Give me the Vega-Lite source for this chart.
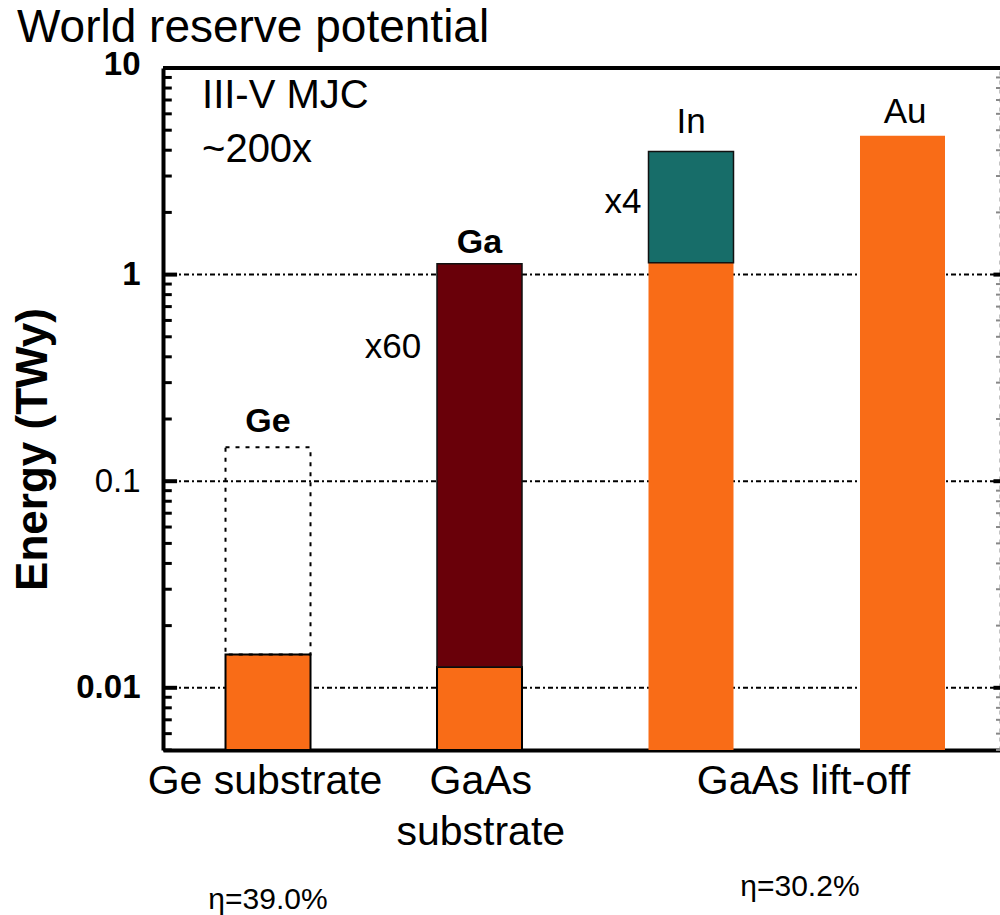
{
  "$schema": "https://vega.github.io/schema/vega-lite/v6.json",
  "width": 837,
  "height": 682,
  "autosize": {"type": "none"},
  "padding": {"left": 163, "top": 68, "right": 0, "bottom": 165},
  "background": "white",
  "title": {"text": "World reserve potential", "anchor": "start", "frame": "bounds", "fontSize": 46, "fontWeight": "normal", "font": "Liberation Sans", "color": "black", "baseline": "bottom", "offset": -50, "dx": 6},
  "config": {
    "font": "Liberation Sans",
    "view": {"stroke": null},
    "axisX": {"labels": false, "ticks": false, "grid": false, "domainWidth": 4, "domainColor": "black", "title": null}
  },
  "resolve": {"axis": {"y": "independent"}},
  "datasets": {
    "bars": [
      {"pos": 1, "metal": "Ge", "value": 0.0145, "reserve": 0.146},
      {"pos": 2, "metal": "Ga", "value": 0.0126, "top": 1.13},
      {"pos": 3, "metal": "In", "value": 1.14, "top": 3.94},
      {"pos": 4, "metal": "Au", "value": 4.7}
    ],
    "grid": [{"v": 0.01}, {"v": 0.1}, {"v": 1}],
    "minorTicks": [
      {"v": 0.005}, {"v": 0.006}, {"v": 0.007}, {"v": 0.008}, {"v": 0.009},
      {"v": 0.02}, {"v": 0.03}, {"v": 0.04}, {"v": 0.05}, {"v": 0.06}, {"v": 0.07}, {"v": 0.08}, {"v": 0.09},
      {"v": 0.2}, {"v": 0.3}, {"v": 0.4}, {"v": 0.5}, {"v": 0.6}, {"v": 0.7}, {"v": 0.8}, {"v": 0.9},
      {"v": 2}, {"v": 3}, {"v": 4}, {"v": 5}, {"v": 6}, {"v": 7}, {"v": 8}, {"v": 9}
    ],
    "majorTicks": [{"v": 0.01}, {"v": 0.1}, {"v": 1}, {"v": 10}],
    "notes": [
      {"label": "III-V MJC", "x": 0.688, "y": 7.32},
      {"label": "~200x", "x": 0.688, "y": 4.01}
    ],
    "metals": [
      {"label": "Ge", "x": 1.0, "y": 0.1936},
      {"label": "Ga", "x": 2.0, "y": 1.422}
    ],
    "marks": [
      {"label": "In", "x": 3.0, "y": 5.48},
      {"label": "Au", "x": 4.012, "y": 6.12},
      {"label": "x4", "x": 2.678, "y": 2.246},
      {"label": "x60", "x": 1.591, "y": 0.4465}
    ],
    "groups": [
      {"label": "Ge substrate", "x": 0.986, "y": 0.0035},
      {"label": "GaAs", "x": 2.006, "y": 0.0035},
      {"label": "substrate", "x": 2.006, "y": 0.00198},
      {"label": "GaAs lift-off", "x": 3.532, "y": 0.0035}
    ],
    "eff": [
      {"label": "η=39.0%", "x": 1.0, "y": 0.00094},
      {"label": "η=30.2%", "x": 3.515, "y": 0.001086}
    ]
  },
  "layer": [
    {
      "data": {"name": "grid"},
      "mark": {"type": "rule", "color": "black", "strokeWidth": 2, "strokeDash": [2, 3, 5, 3]},
      "encoding": {
        "y": {"field": "v", "type": "quantitative", "scale": {"type": "log", "domain": [0.005, 10]},
          "axis": {
            "orient": "left",
            "values": [0.01, 0.1, 1, 10],
            "labelExpr": "datum.value == 10 ? '10' : datum.value == 1 ? '1' : datum.value == 0.1 ? '0.1' : datum.value == 0.01 ? '0.01' : ''",
            "labelFontSize": 33,
            "labelFontWeight": {"condition": {"test": "datum.value == 0.1", "value": "normal"}, "value": "bold"},
            "labelOffset": {"condition": {"test": "datum.value == 10", "value": -4}, "value": 0},
            "labelColor": "black",
            "labelPadding": 23,
            "labelBaseline": "middle",
            "ticks": false,
            "domainWidth": 4,
            "domainColor": "black",
            "grid": false,
            "labelOverlap": false,
            "labelFlush": false,
            "title": "Energy (TWy)",
            "titleFontSize": 44,
            "titleFontWeight": "bold",
            "titleColor": "black",
            "titleAngle": -90,
            "titleX": -130,
            "titleY": 381,
            "titleAlign": "center",
            "titleBaseline": "middle"
          }
        }
      }
    },
    {
      "data": {"name": "minorTicks"},
      "mark": {"type": "rule", "color": "black", "strokeWidth": 3},
      "encoding": {
        "y": {"field": "v", "type": "quantitative", "scale": {"type": "log", "domain": [0.005, 10]}, "axis": null},
        "x": {"datum": 0.5035, "type": "quantitative", "scale": {"domain": [0.5035, 4.461], "nice": false, "zero": false, "padding": 0}, "title": null},
        "x2": {"datum": 0.545}
      }
    },
    {
      "data": {"name": "majorTicks"},
      "mark": {"type": "rule", "color": "black", "strokeWidth": 4},
      "encoding": {
        "y": {"field": "v", "type": "quantitative", "scale": {"type": "log", "domain": [0.005, 10]}, "axis": null},
        "x": {"datum": 0.5035, "type": "quantitative", "scale": {"domain": [0.5035, 4.461], "nice": false, "zero": false, "padding": 0}, "title": null},
        "x2": {"datum": 0.57}
      }
    },
    {
      "data": {"name": "minorTicks"},
      "mark": {"type": "rule", "color": "#888", "strokeWidth": 2},
      "encoding": {
        "y": {"field": "v", "type": "quantitative", "scale": {"type": "log", "domain": [0.005, 10]}, "axis": null},
        "x": {"datum": 4.442, "type": "quantitative", "scale": {"domain": [0.5035, 4.461], "nice": false, "zero": false, "padding": 0}, "title": null},
        "x2": {"datum": 4.461}
      }
    },
    {
      "data": {"name": "majorTicks"},
      "mark": {"type": "rule", "color": "black", "strokeWidth": 4},
      "encoding": {
        "y": {"field": "v", "type": "quantitative", "scale": {"type": "log", "domain": [0.005, 10]}, "axis": null},
        "x": {"datum": 4.43, "type": "quantitative", "scale": {"domain": [0.5035, 4.461], "nice": false, "zero": false, "padding": 0}, "title": null},
        "x2": {"datum": 4.461}
      }
    },
    {
      "data": {"name": "bars"},
      "mark": {"type": "bar", "orient": "vertical", "width": 85, "color": "#F96C17", "stroke": "black", "strokeWidth": 2},
      "encoding": {
        "x": {"field": "pos", "type": "quantitative", "scale": {"domain": [0.5035, 4.461], "nice": false, "zero": false, "padding": 0}, "title": null},
        "y": {"field": "value", "type": "quantitative", "stack": null, "scale": {"type": "log", "domain": [0.005, 10]}, "axis": null},
        "strokeOpacity": {"condition": {"test": "datum.pos <= 2", "value": 1}, "value": 0}
      }
    },
    {
      "data": {"name": "bars"},
      "transform": [{"filter": "isValid(datum.top)"}],
      "mark": {"type": "bar", "orient": "vertical", "width": 85, "stroke": "#111", "strokeWidth": 1.5},
      "encoding": {
        "x": {"field": "pos", "type": "quantitative", "scale": {"domain": [0.5035, 4.461], "nice": false, "zero": false, "padding": 0}, "title": null},
        "y": {"field": "top", "type": "quantitative", "stack": null, "scale": {"type": "log", "domain": [0.005, 10]}, "axis": null},
        "y2": {"field": "value"},
        "color": {"field": "metal", "type": "nominal", "scale": {"domain": ["Ga", "In"], "range": ["#690009", "#176D69"]}, "legend": null}
      }
    },
    {
      "data": {"name": "bars"},
      "transform": [{"filter": "isValid(datum.reserve)"}],
      "mark": {"type": "bar", "orient": "vertical", "width": 85, "fillOpacity": 0, "stroke": "black", "strokeWidth": 2, "strokeDash": [4, 6]},
      "encoding": {
        "x": {"field": "pos", "type": "quantitative", "scale": {"domain": [0.5035, 4.461], "nice": false, "zero": false, "padding": 0}, "title": null},
        "y": {"field": "reserve", "type": "quantitative", "stack": null, "scale": {"type": "log", "domain": [0.005, 10]}, "axis": null},
        "y2": {"field": "value"}
      }
    },
    {
      "data": {"name": "grid"},
      "mark": {"type": "rule", "color": "black", "strokeWidth": 4},
      "encoding": {
        "y": {"datum": 10, "type": "quantitative", "scale": {"type": "log", "domain": [0.005, 10]},
          "axis": {
            "orient": "right",
            "values": [0.01, 0.1, 1, 10],
            "labels": false,
            "ticks": false,
            "domainColor": "#888",
            "domainDash": [4, 5],
            "domainWidth": 2,
            "grid": false,
            "title": null
          }
        }
      }
    },
    {
      "data": {"name": "notes"},
      "mark": {"type": "text", "align": "left", "baseline": "middle", "fontSize": 40, "color": "black"},
      "encoding": {
        "x": {"field": "x", "type": "quantitative", "scale": {"domain": [0.5035, 4.461], "nice": false, "zero": false, "padding": 0}, "title": null},
        "y": {"field": "y", "type": "quantitative", "scale": {"type": "log", "domain": [0.005, 10]}, "axis": null},
        "text": {"field": "label"}
      }
    },
    {
      "data": {"name": "metals"},
      "mark": {"type": "text", "align": "center", "baseline": "middle", "fontSize": 34, "fontWeight": "bold", "color": "black"},
      "encoding": {
        "x": {"field": "x", "type": "quantitative", "scale": {"domain": [0.5035, 4.461], "nice": false, "zero": false, "padding": 0}, "title": null},
        "y": {"field": "y", "type": "quantitative", "scale": {"type": "log", "domain": [0.005, 10]}, "axis": null},
        "text": {"field": "label"}
      }
    },
    {
      "data": {"name": "marks"},
      "mark": {"type": "text", "align": "center", "baseline": "middle", "fontSize": 35, "color": "black"},
      "encoding": {
        "x": {"field": "x", "type": "quantitative", "scale": {"domain": [0.5035, 4.461], "nice": false, "zero": false, "padding": 0}, "title": null},
        "y": {"field": "y", "type": "quantitative", "scale": {"type": "log", "domain": [0.005, 10]}, "axis": null},
        "text": {"field": "label"}
      }
    },
    {
      "data": {"name": "groups"},
      "mark": {"type": "text", "align": "center", "baseline": "middle", "fontSize": 41, "color": "black"},
      "encoding": {
        "x": {"field": "x", "type": "quantitative", "scale": {"domain": [0.5035, 4.461], "nice": false, "zero": false, "padding": 0}, "title": null},
        "y": {"field": "y", "type": "quantitative", "scale": {"type": "log", "domain": [0.005, 10]}, "axis": null},
        "text": {"field": "label"}
      }
    },
    {
      "data": {"name": "eff"},
      "mark": {"type": "text", "align": "center", "baseline": "middle", "fontSize": 30, "color": "black"},
      "encoding": {
        "x": {"field": "x", "type": "quantitative", "scale": {"domain": [0.5035, 4.461], "nice": false, "zero": false, "padding": 0}, "title": null},
        "y": {"field": "y", "type": "quantitative", "scale": {"type": "log", "domain": [0.005, 10]}, "axis": null},
        "text": {"field": "label"}
      }
    }
  ]
}
